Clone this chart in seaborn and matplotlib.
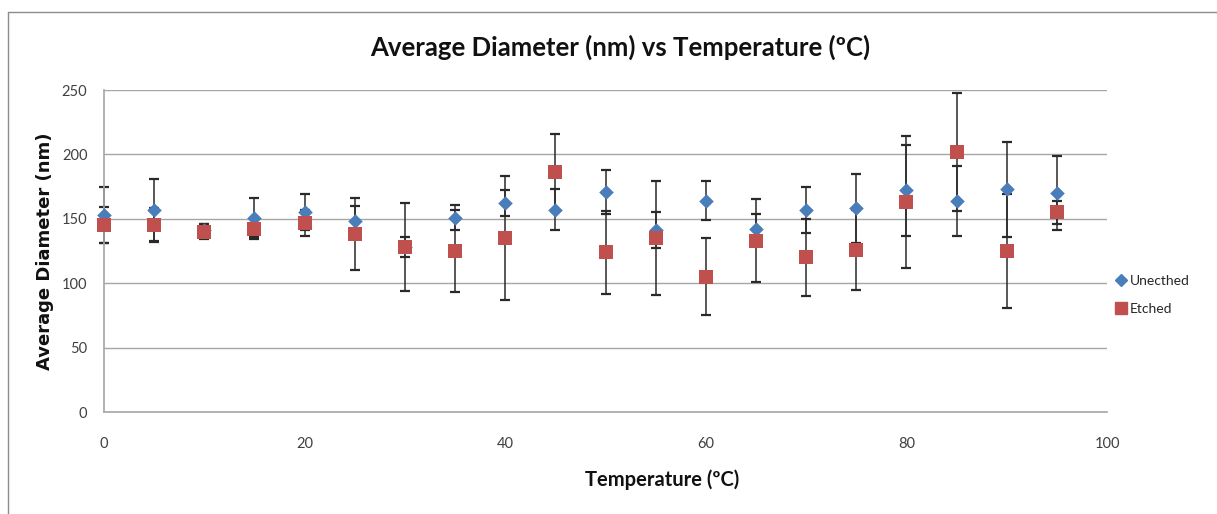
import numpy as np
import pandas as pd
import matplotlib
matplotlib.use("Agg")
import matplotlib.pyplot as plt
import seaborn as sns
from matplotlib.lines import Line2D

# ---- data ----
temperature = [0, 5, 10, 15, 20, 25, 30, 35, 40, 45, 50, 55, 60, 65, 70, 75, 80, 85, 90, 95]
unetched = [153, 157, 141, 151, 155, 148, 128, 151, 162, 157, 171, 141, 164, 142, 157, 158, 172, 164, 173, 170]
unetched_err = [22, 24, 5, 15, 14, 12, 8, 10, 10, 16, 17, 14, 15, 12, 18, 27, 35, 27, 37, 29]
etched = [145, 145, 140, 142, 147, 138, 128, 125, 135, 186, 124, 135, 105, 133, 120, 126, 163, 202, 125, 155]
etched_err = [14, 13, 6, 8, 10, 28, 34, 32, 48, 30, 32, 44, 30, 32, 30, 31, 51, 46, 44, 9]
series_names = ["Unecthed", "Etched"]
x_ticks = [0, 20, 40, 60, 80, 100]
y_ticks = [0, 50, 100, 150, 200, 250]

sns.set_theme(style="white")
plt.rcParams['font.family'] = ['Lato', 'DejaVu Sans']

W, H = 1217, 514
fig = plt.figure(figsize=(W / 100, H / 100), dpi=100)
ax = fig.add_axes([104 / W, 1 - 412 / H, (1107 - 104) / W, (412 - 90) / H])

df = pd.DataFrame({
    "T": temperature * 2,
    "D": unetched + etched,
    "err": unetched_err + etched_err,
    "series": [series_names[0]] * len(temperature) + [series_names[1]] * len(temperature),
})

blue = "#4A7EBB"
red = "#C0504D"

# error bars
for name in series_names:
    sub = df[df["series"] == name]
    eb = ax.errorbar(sub["T"], sub["D"], yerr=sub["err"], fmt="none", ecolor="#2A2A2A",
                     elinewidth=1.1, capsize=3.5, capthick=1.6, zorder=2)
    for art in eb.lines[1] + eb.lines[2]:
        art.set_clip_on(False)

sns.scatterplot(data=df[df["series"] == series_names[0]], x="T", y="D", ax=ax,
                marker="D", s=55, color=blue, edgecolor=blue, linewidth=0, zorder=3,
                legend=False, clip_on=False)
sns.scatterplot(data=df[df["series"] == series_names[1]], x="T", y="D", ax=ax,
                marker="s", s=115, color=red, edgecolor=red, linewidth=0, zorder=4,
                legend=False, clip_on=False)

ax.set_xlim(0, 100)
ax.set_ylim(0, 250)
ax.set_xticks(x_ticks)
ax.set_yticks(y_ticks)
ax.yaxis.grid(True, color="#A6A6A6", linewidth=1.0)
ax.xaxis.grid(False)
for s in ["top", "right"]:
    ax.spines[s].set_visible(False)
for s in ["left", "bottom"]:
    ax.spines[s].set_color("#A6A6A6")
    ax.spines[s].set_linewidth(1.2)
ax.tick_params(axis="both", which="both", direction="out", length=6, width=1,
               color="#A6A6A6", labelsize=10.5, labelcolor="#404040")
ax.tick_params(axis="x", pad=12)
ax.tick_params(axis="y", pad=6)
ax.set_xlabel("")
ax.set_ylabel("")

fig.text(620 / W, 1 - 47 / H, "Average Diameter (nm) vs Temperature (ºC)",
         ha="center", va="center", fontsize=18.5, fontweight="bold", color="#111111")
fig.text(662 / W, 1 - 480 / H, "Temperature (ºC)", ha="center", va="center",
         fontsize=14.5, fontweight="bold", color="#111111")
fig.text(45 / W, 1 - 251 / H, "Average Diameter (nm)", ha="center", va="center",
         rotation=90, fontsize=13, fontweight="bold", color="#111111",
         family=["DejaVu Sans"])

handles = [
    Line2D([], [], marker="D", linestyle="none", color=blue, markersize=6),
    Line2D([], [], marker="s", linestyle="none", color=red, markersize=9),
]
fig.legend(handles, series_names, loc="center left", bbox_to_anchor=(1108 / W, 1 - 295 / H),
           frameon=False, fontsize=10, handletextpad=0.2, labelspacing=1.2,
           handlelength=1.0, borderaxespad=0)

# outer chart border
fig.add_artist(Line2D([8 / W, 8 / W], [0, 1 - 12 / H], transform=fig.transFigure,
                      color="#8C8C8C", linewidth=1))
fig.add_artist(Line2D([8 / W, 1], [1 - 12 / H, 1 - 12 / H], transform=fig.transFigure,
                      color="#8C8C8C", linewidth=1))

fig.savefig("out.png", dpi=100)
